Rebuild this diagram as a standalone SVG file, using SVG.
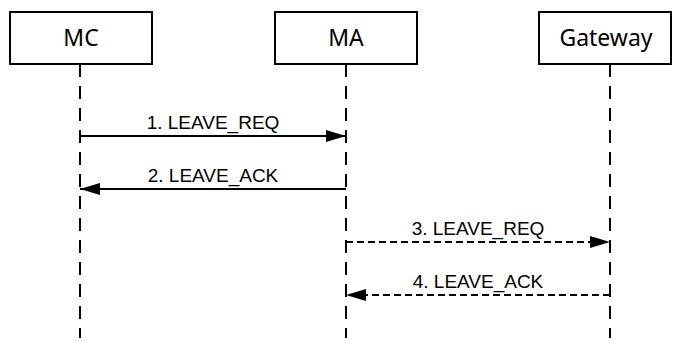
<svg xmlns="http://www.w3.org/2000/svg" width="674" height="343" viewBox="0 0 674 343">
<style>
.box{fill:#fff;stroke:#000;stroke-width:2}
.name{font-family:"Noto Sans","Open Sans",sans-serif;font-size:23px;fill:#000;text-anchor:middle}
.life{stroke:#000;stroke-width:2;stroke-dasharray:13 9;fill:none}
.msg{stroke:#000;stroke-width:2;fill:none}
.dash{stroke-dasharray:7 4}
.lbl{font-family:"Liberation Sans",Arial,sans-serif;font-size:19px;fill:#000;text-anchor:middle}
</style>
<defs>
<marker id="ah" viewBox="0 0 20 12" refX="20" refY="6" markerWidth="20" markerHeight="12" markerUnits="userSpaceOnUse" orient="auto">
<path d="M0,0 L20,6 L0,12 Z" fill="#000"/>
</marker>
</defs>
<rect width="674" height="343" fill="#fff"/>
<g id="MC">
<rect class="box" x="10" y="12" width="142" height="52"/>
<text class="name" x="81" y="46">MC</text>
</g>
<g id="MA">
<rect class="box" x="275" y="12" width="142" height="52"/>
<text class="name" x="346" y="46">MA</text>
</g>
<g id="Gateway">
<rect class="box" x="539" y="12" width="132" height="52"/>
<text class="name" x="606" y="46">Gateway</text>
</g>
<g id="lifelines">
<line class="life" x1="80" y1="64" x2="80" y2="338"/>
<line class="life" x1="346" y1="64" x2="346" y2="338"/>
<line class="life" x1="610" y1="64" x2="610" y2="338"/>
</g>
<g id="connectors">
<line class="msg" x1="80" y1="136" x2="346" y2="136" marker-end="url(#ah)"/>
<text class="lbl" x="213" y="129">1. LEAVE_REQ</text>
<line class="msg" x1="346" y1="189" x2="80" y2="189" marker-end="url(#ah)"/>
<text class="lbl" x="213" y="182">2. LEAVE_ACK</text>
<line class="msg dash" x1="346" y1="242" x2="610" y2="242" marker-end="url(#ah)"/>
<text class="lbl" x="478" y="235">3. LEAVE_REQ</text>
<line class="msg dash" x1="610" y1="295" x2="346" y2="295" marker-end="url(#ah)"/>
<text class="lbl" x="478" y="288">4. LEAVE_ACK</text>
</g>
</svg>
